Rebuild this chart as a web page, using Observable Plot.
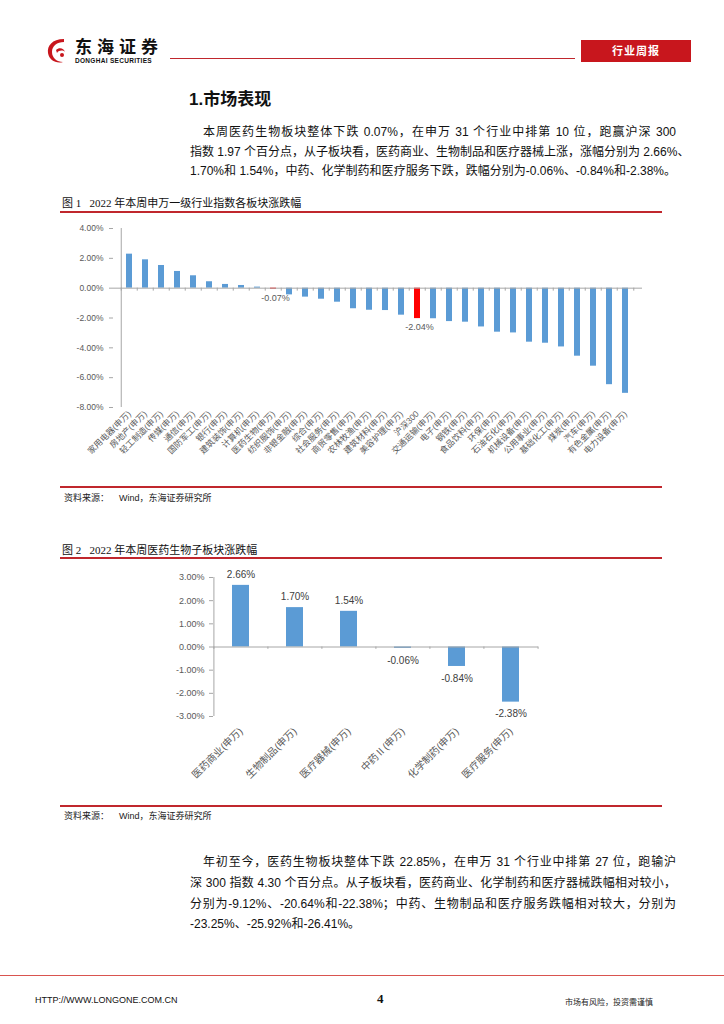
<!DOCTYPE html>
<html><head><meta charset="utf-8">
<script src="https://cdn.jsdelivr.net/npm/d3@7"></script>
<script src="https://cdn.jsdelivr.net/npm/@observablehq/plot@0.6"></script>
<style>
body{margin:0;background:#fff;font-family:"Liberation Sans","Noto Sans CJK SC",sans-serif;color:#111;}
#page{position:relative;width:724px;height:1024px;overflow:hidden;background:#fff;}
.abs{position:absolute;white-space:nowrap;}
.pl{position:absolute;left:190px;width:486px;font-size:12px;line-height:16px;text-align:justify;text-align-last:justify;white-space:nowrap;}
.rl{position:absolute;left:60px;width:602px;height:2px;background:#c0272d;}
.cap{position:absolute;left:62px;font-size:11px;font-family:"Liberation Serif","Noto Sans CJK SC",serif;color:#111;}
.src{position:absolute;left:64px;font-size:9px;color:#222;}
</style></head>
<body><div id="page">
  <svg class="abs" style="left:44px;top:36px" width="30" height="30" viewBox="0 0 30 30">
    <path d="M20 3 C8 3 3 10 4 17 C5 24 12 28 19 26 C13 26 8 22 8 16 C8 10 13 6 20 6 Z" fill="#c8161d"/>
    <path d="M12 14 C15 11 20 12 21 16 C19 14 15 14 13 17 Z" fill="#c8161d"/>
    <circle cx="18" cy="19" r="2" fill="#c8161d"/>
  </svg>
  <div class="abs" style="left:75px;top:39px;font-size:17px;line-height:17px;font-weight:bold;letter-spacing:5px;color:#111;">东海证券</div>
  <div class="abs" style="left:75px;top:57px;font-size:6.5px;line-height:7px;font-weight:bold;letter-spacing:0.3px;color:#111;">DONGHAI SECURITIES</div>
  <div class="abs" style="left:170px;top:58px;width:405px;height:1px;background:#c0272d;"></div>
  <div class="abs" style="left:581px;top:40px;width:110px;height:22px;background:#c8161d;color:#fff;font-size:11px;font-weight:bold;line-height:22px;text-align:center;letter-spacing:1px;">行业周报</div>

  <div class="abs" style="left:189px;top:85px;font-size:17px;font-weight:bold;">1.市场表现</div>

  <div class="pl" style="left:203px;width:473px;top:124px;">本周医药生物板块整体下跌 0.07%，在申万 31 个行业中排第 10 位，跑赢沪深 300</div>
  <div class="pl" style="top:144px;">指数 1.97 个百分点，从子板块看，医药商业、生物制品和医疗器械上涨，涨幅分别为 2.66%、</div>
  <div class="pl" style="top:163px;">1.70%和 1.54%，中药、化学制药和医疗服务下跌，跌幅分别为-0.06%、-0.84%和-2.38%。</div>

  <div class="cap" style="top:194px;">图 1&nbsp;&nbsp;&nbsp;2022 年本周申万一级行业指数各板块涨跌幅</div>
  <div class="rl" style="top:211px;"></div>
  <div class="rl" style="top:486px;"></div>
  <div class="src" style="top:491px;">资料来源：&nbsp;&nbsp;&nbsp;&nbsp;Wind，东海证券研究所</div>

  <div class="cap" style="top:541px;">图 2&nbsp;&nbsp;&nbsp;2022 年本周医药生物子板块涨跌幅</div>
  <div class="rl" style="top:557px;"></div>
  <div class="rl" style="top:805px;"></div>
  <div class="src" style="top:809px;">资料来源：&nbsp;&nbsp;&nbsp;&nbsp;Wind，东海证券研究所</div>

  <div class="pl" style="left:203px;width:473px;top:854px;">年初至今，医药生物板块整体下跌 22.85%，在申万 31 个行业中排第 27 位，跑输沪</div>
  <div class="pl" style="top:875px;">深 300 指数 4.30 个百分点。从子板块看，医药商业、化学制药和医疗器械跌幅相对较小，</div>
  <div class="pl" style="top:896px;">分别为-9.12%、-20.64%和-22.38%；中药、生物制品和医疗服务跌幅相对较大，分别为</div>
  <div class="pl" style="top:916px;text-align:left;text-align-last:left;">-23.25%、-25.92%和-26.41%。</div>

  <div class="abs" style="left:0;top:975px;width:724px;height:1px;background:#d9534f;"></div>
  <div class="abs" style="left:35px;top:995px;font-size:9px;color:#111;">HTTP://WWW.LONGONE.COM.CN</div>
  <div class="abs" style="left:377px;top:991px;font-size:13px;font-weight:bold;font-family:'Liberation Serif',serif;">4</div>
  <div class="abs" style="left:565px;top:996px;font-size:8px;color:#222;">市场有风险，投资需谨慎</div>
</div>
<script>
// ---------- Data: Figure 1 ----------
const cats1 = ["家用电器(申万)","房地产(申万)","轻工制造(申万)","传媒(申万)","通信(申万)","国防军工(申万)","银行(申万)","建筑装饰(申万)","计算机(申万)","医药生物(申万)","纺织服饰(申万)","非银金融(申万)","综合(申万)","社会服务(申万)","商贸零售(申万)","农林牧渔(申万)","建筑材料(申万)","美容护理(申万)","沪深300","交通运输(申万)","电子(申万)","钢铁(申万)","食品饮料(申万)","环保(申万)","石油石化(申万)","机械设备(申万)","公用事业(申万)","基础化工(申万)","煤炭(申万)","汽车(申万)","有色金属(申万)","电力设备(申万)"];
const vals1 = [2.28,1.90,1.52,1.12,0.83,0.43,0.25,0.18,0.07,-0.07,-0.45,-0.60,-0.74,-0.94,-1.38,-1.48,-1.50,-1.81,-2.04,-2.05,-2.24,-2.28,-2.60,-2.95,-3.00,-3.62,-3.69,-3.94,-4.56,-5.23,-6.47,-7.05];
const highlight1 = ["医药生物(申万)","沪深300"];
const yTicks1 = [-8,-6,-4,-2,0,2,4];

// ---------- Data: Figure 2 ----------
const cats2 = ["医药商业(申万)","生物制品(申万)","医疗器械(申万)","中药Ⅱ(申万)","化学制药(申万)","医疗服务(申万)"];
const vals2 = [2.66,1.70,1.54,-0.06,-0.84,-2.38];
const yTicks2 = [-3,-2,-1,0,1,2,3];

const blue = "#5B9BD5", red = "#FF0000", axisGray = "#a6a6a6", textGray = "#595959";
const fmt = d => d.toFixed(2) + "%";
const font = "'Liberation Sans','Noto Sans CJK SC',sans-serif";
const page = document.getElementById("page");

// ---------- Figure 1 ----------
const data1 = cats1.map((c, i) => ({cat: c, v: vals1[i]}));
const W = 724, ML1 = 113, MR1 = 82;
const step1 = (W - ML1 - MR1) / cats1.length;
const chart1 = Plot.plot({
  width: W, height: 270, marginLeft: ML1, marginRight: MR1, marginTop: 13, marginBottom: 78,
  style: {fontFamily: font, background: "transparent", overflow: "visible"},
  x: {domain: cats1, paddingInner: 0.6, paddingOuter: 0.3, label: null},
  y: {domain: [-8, 4], label: null},
  marks: [
    Plot.axisY({ticks: yTicks1, tickFormat: fmt, tickSize: 4, tickPadding: 6, stroke: axisGray, fill: textGray, fontSize: 8.5}),
    Plot.axisX({tickRotate: -45, tickSize: 0, tickPadding: 5, fill: textGray, fontSize: 8.5}),
    Plot.barY(data1.filter(d => !highlight1.includes(d.cat)), {x: "cat", y: "v", fill: blue}),
    Plot.barY(data1.filter(d => highlight1.includes(d.cat)), {x: "cat", y: "v", fill: red}),
    Plot.ruleY([0], {stroke: axisGray}),
    Plot.ruleX(cats1, {x: d => d, y1: 0, y2: -0.2, dx: -step1 / 2, stroke: axisGray}),
    Plot.ruleX([cats1[cats1.length - 1]], {x: d => d, y1: 0, y2: -0.2, dx: step1 / 2, stroke: axisGray}),
    Plot.ruleX([cats1[0]], {x: d => d, y1: -8, y2: 4, dx: -step1 / 2, stroke: axisGray}),
    Plot.text(data1.filter(d => highlight1.includes(d.cat)), {x: "cat", y: "v", text: d => fmt(d.v), dy: 9, dx: 2, fill: textGray, fontSize: 9})
  ]
});
Object.assign(chart1.style, {position: "absolute", left: "0px", top: "215px"});
page.appendChild(chart1);

// ---------- Figure 2 ----------
const data2 = cats2.map((c, i) => ({cat: c, v: vals2[i]}));
const ML2 = 213, MR2 = 186;
const step2 = (W - ML2 - MR2) / cats2.length;
const chart2 = Plot.plot({
  width: W, height: 240, marginLeft: ML2, marginRight: MR2, marginTop: 12, marginBottom: 89,
  style: {fontFamily: font, background: "transparent", overflow: "visible"},
  x: {domain: cats2, paddingInner: 0.68, paddingOuter: 0.34, label: null},
  y: {domain: [-3, 3], label: null},
  marks: [
    Plot.axisY({ticks: yTicks2, tickFormat: fmt, tickSize: 4, tickPadding: 5, stroke: axisGray, fill: textGray, fontSize: 9}),
    Plot.axisX({tickRotate: -45, tickSize: 0, tickPadding: 13, fill: textGray, fontSize: 10}),
    Plot.barY(data2, {x: "cat", y: "v", fill: blue}),
    Plot.ruleY([0], {stroke: axisGray}),
    Plot.ruleX(cats2, {x: d => d, y1: 0, y2: -0.1, dx: -step2 / 2, stroke: axisGray}),
    Plot.ruleX([cats2[cats2.length - 1]], {x: d => d, y1: 0, y2: -0.1, dx: step2 / 2, stroke: axisGray}),
    Plot.ruleX([cats2[0]], {x: d => d, y1: -3, y2: 3, dx: -step2 / 2, stroke: axisGray}),
    Plot.text(data2.filter(d => d.v >= 0), {x: "cat", y: "v", text: d => fmt(d.v), dy: -11, fill: "#404040", fontSize: 10}),
    Plot.text(data2.filter(d => d.v < 0), {x: "cat", y: "v", text: d => fmt(d.v), dy: 12, fill: "#404040", fontSize: 10})
  ]
});
Object.assign(chart2.style, {position: "absolute", left: "0px", top: "565px"});
page.appendChild(chart2);
</script>
</body></html>
